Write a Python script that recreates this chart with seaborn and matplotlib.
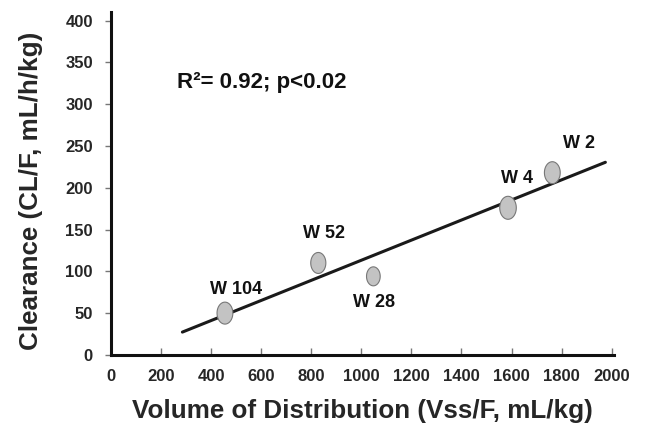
import numpy as np
import matplotlib
matplotlib.use("Agg")
import matplotlib.pyplot as plt
from matplotlib.path import Path
import seaborn as sns
import pandas as pd

# data
labels = ["W 104", "W 52", "W 28", "W 4", "W 2"]
vss = [455, 828, 1048, 1586, 1763]
cl = [50, 110, 94, 176, 218]
label_x = [498, 851, 1052, 1622, 1871]
label_y = [78, 145, 63, 211, 253]
marker_sizes = [250, 228, 187, 274, 250]
line_range = [285, 1975]
x_ticks = list(range(0, 2001, 200))
y_ticks = list(range(0, 401, 50))

sns.set_theme(style="white")
plt.rcParams['font.family'] = ['Liberation Sans', 'DejaVu Sans']

fig = plt.figure(figsize=(6.69, 4.36), dpi=100)
ax = fig.add_axes([0.166, 0.186, 0.752, 0.786])

df = pd.DataFrame({"vss": vss, "cl": cl, "label": labels, "s": marker_sizes})

# regression line
slope, intercept = np.polyfit(vss, cl, 1)
lx = np.array(line_range)
ax.plot(lx, slope * lx + intercept, color="#1a1a1a", lw=2.2, zorder=2)

# vertical ellipse marker
t = np.linspace(0, 2 * np.pi, 60)
verts = np.column_stack([0.72 * np.cos(t), np.sin(t)])
ell = Path(verts, closed=True)

sns.scatterplot(data=df, x="vss", y="cl", size="s", sizes=(min(marker_sizes), max(marker_sizes)),
                marker=ell, color="#c3c3c3", edgecolor="#777777", linewidth=0.8,
                legend=False, ax=ax, zorder=3)

for lab, x, y in zip(labels, label_x, label_y):
    ax.text(x, y, lab, ha="center", va="center", fontsize=13, fontweight="bold", color="#111111")

ax.text(262, 326, "R²= 0.92; p<0.02", fontsize=16, fontweight="bold", color="#111111",
        va="center", ha="left")

ax.set_xlim(0, 2010)
ax.set_ylim(0, 410)
ax.set_xticks(x_ticks)
ax.set_yticks(y_ticks)
ax.set_xticklabels([str(v) for v in x_ticks], fontsize=12, fontweight="bold")
ax.set_yticklabels([str(v) for v in y_ticks], fontsize=12, fontweight="bold")
ax.tick_params(axis="x", direction="in", length=5, width=1, color="#777777", pad=10, bottom=True)
ax.tick_params(axis="y", direction="out", length=4, width=1, color="#777777", pad=9, left=True)

sns.despine(ax=ax)
for sp in ["left", "bottom"]:
    ax.spines[sp].set_linewidth(2.2)
    ax.spines[sp].set_color("#111111")

ax.set_xlabel("Volume of Distribution (Vss/F, mL/kg)", fontsize=18.7, fontweight="bold")
ax.set_ylabel("Clearance (CL/F, mL/h/kg)", fontsize=18.7, fontweight="bold")
ax.xaxis.set_label_coords(0.5, -0.128)
ax.yaxis.set_label_coords(-0.135, 0.48)

fig.savefig("out.png", dpi=100)
